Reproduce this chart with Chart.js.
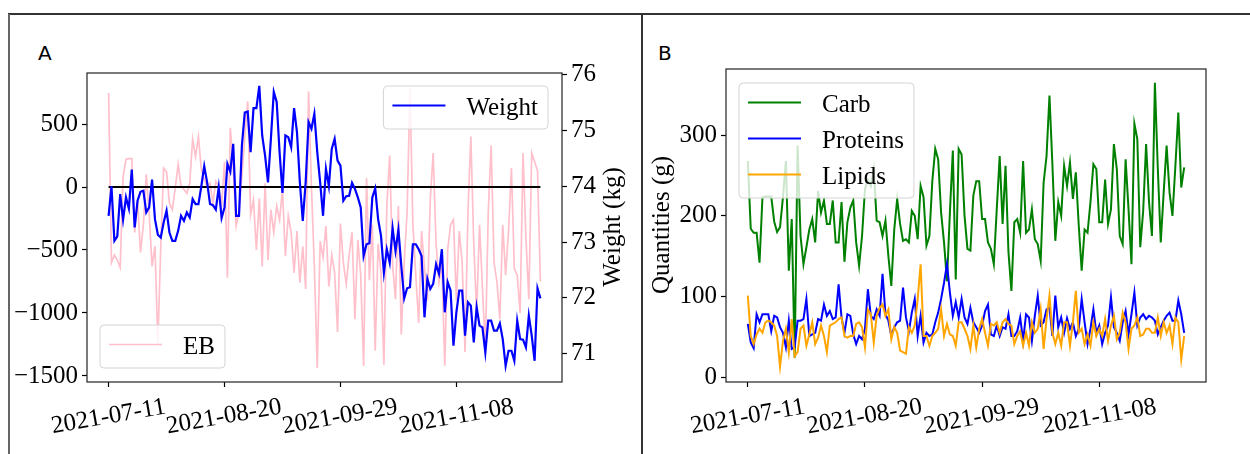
<!DOCTYPE html>
<html>
<head>
<meta charset="utf-8">
<script src="https://cdn.jsdelivr.net/npm/chart.js@4.4.0/dist/chart.umd.min.js"></script>
<style>
  body { margin: 0; width: 1250px; height: 454px; background: #fff; position: relative; overflow: hidden; font-family: "Liberation Serif", serif; }
  canvas { position: absolute; }
  .rule { position: absolute; }
  .panel { position: absolute; font: 20px "DejaVu Sans", sans-serif; line-height: 20px; }
  .ytitle { position: absolute; font-size: 25px; line-height: 25px; white-space: nowrap; transform: translate(-50%, -50%) rotate(-90deg); }
</style>
</head>
<body>
<div class="rule" style="left:8px; top:13px; width:1242px; height:2px; background:#333;"></div>
<div class="rule" style="left:8px; top:14px; width:1.5px; height:440px; background:#666;"></div>
<div class="rule" style="left:641px; top:14px; width:1.5px; height:440px; background:#333;"></div>
<div class="panel" style="left:38px; top:43px;">A</div>
<div class="panel" style="left:658px; top:43px;">B</div>

<canvas id="chartA" width="630" height="439" style="left:10px; top:15px;"></canvas>
<canvas id="chartB" width="607" height="439" style="left:643px; top:15px;"></canvas>

<div class="ytitle" style="left:611px; top:227px;">Weight (kg)</div>
<div class="ytitle" style="left:660px; top:225px;">Quantities (g)</div>

<script>
// days since 2021-07-11
const xTickDays = [0, 40, 80, 120];
const xTickLabels = ["2021-07-11", "2021-08-20", "2021-09-29", "2021-11-08"];
const ebTicks = [-1500, -1000, -500, 0, 500];
const weightTicks = [71, 72, 73, 74, 75, 76];
const gramTicks = [0, 100, 200, 300];

const weight = [
  73.47, 74.0, 73.02, 73.1, 73.86, 73.4, 73.8, 73.6, 74.3, 73.26,
  73.74, 73.9, 73.92, 73.53, 73.62, 74.12, 73.41, 73.13, 73.08, 73.35,
  73.56, 73.17, 73.02, 73.02, 73.2, 73.47, 73.38, 73.53, 73.44, 73.77,
  73.68, 73.68, 74.0, 74.36, 74.07, 73.68, 73.66, 73.58, 73.98, 73.43,
  73.62, 74.4, 74.26, 74.76, 73.47, 73.47, 74.73, 75.32, 75.34, 74.61,
  75.4, 75.4, 75.8, 74.91, 74.55, 74.07, 74.85, 75.69, 75.51, 74.61,
  73.88, 74.91, 74.88, 74.7, 75.4, 74.97, 74.07, 73.38, 74.07, 75.15,
  75.03, 75.3, 74.61, 74.07, 73.47, 74.31, 74.0, 74.67, 74.85, 74.46,
  74.37, 73.74, 73.82, 73.83, 74.06, 73.95, 73.8, 73.62, 72.75, 72.96,
  72.98, 73.8, 73.96, 73.41, 73.11, 72.45, 72.87, 72.63, 73.25, 72.84,
  73.22, 72.57, 71.99, 72.17, 72.19, 72.96, 72.96, 72.87, 72.75, 71.65,
  72.34, 72.16, 72.25, 72.6, 72.43, 72.87, 71.74, 72.28, 72.13, 71.14,
  71.74, 72.13, 72.13, 71.32, 71.92, 71.86, 71.2, 71.83, 71.5, 71.47,
  71.02, 71.59, 71.59, 71.41, 71.41, 71.54, 71.26, 70.78, 71.05, 71.05,
  70.87, 71.59, 71.26, 71.25, 71.11, 71.68, 71.32, 70.87, 72.17, 71.99
];

const eb = [
  746, -600, -540, -580, -640, 80, 220, 225, 225, -360,
  -100, -520, -300, 100, -210, -630, -470, -1240, -470, 150,
  120, -130, -180, -10, 180, 5, -20, -50, 30, 380,
  240, 400, 140, 60, 5, 30, -130, 45, 5, -140,
  200, -720, 470, 160, -310, -200, 90, 400, 680, -220,
  -100, -500, -90, -630, 30, -580, -180, -360, -150, -260,
  -20, -550, -230, -360, -680, -350, -760, -470, -810, 760,
  0, -630, -1437, -430, -560, -310, -790, -540, -680, -1150,
  -290, -600, -770, -540, -360, -1050, -420, -700, -1420, 70,
  -740, -300, -1300, -450, -680, -1410, -150, 250, -620, -890,
  -150, -1170, -600, -200, 790, -300, -700, -1080, -350, -640,
  -900, -100, 270, -450, -760, -600, -1420, -500, -300, -260,
  -900, -350, -600, -1310, -200, 400, -450, -1000, -300, -800,
  -1300, -200, 330, -600, -750, -1050, -300, -700, -350, 150,
  -650, -700, -1000, 270, -400, -890, 270, 200, 130, -750
];

const carb = [
  268, 184, 179, 179, 142, 223, 224, 224, 224, 193,
  180, 186, 223, 268, 132, 196, 24, 287, 175, 140,
  161, 183, 196, 167, 231, 204, 219, 190, 190, 219,
  167, 167, 217, 143, 192, 210, 219, 167, 138, 175,
  233, 245, 237, 258, 194, 192, 175, 194, 150, 113,
  183, 221, 190, 169, 171, 167, 206, 200, 171, 237,
  223, 163, 175, 243, 283, 270, 204, 167, 119, 204,
  281, 121, 283, 276, 200, 159, 157, 225, 243, 243,
  196, 196, 167, 159, 140, 208, 274, 190, 262, 155,
  107, 192, 196, 179, 268, 179, 183, 208, 171, 165,
  144, 241, 274, 349, 264, 169, 217, 200, 262, 237,
  266, 221, 254, 188, 132, 183, 179, 217, 264, 258,
  192, 192, 245, 190, 208, 289, 258, 175, 165, 270,
  208, 140, 314, 295, 161, 206, 289, 217, 175, 365,
  258, 167, 229, 287, 229, 200, 262, 328, 235, 260
];

const proteins = [
  66, 43, 36, 78, 68, 78, 78, 78, 57, 76,
  74, 62, 55, 37, 70, 35, 37, 70, 70, 72,
  97, 51, 53, 55, 72, 70, 90, 76, 82, 72,
  74, 115, 74, 55, 78, 76, 53, 41, 51, 47,
  60, 109, 76, 72, 84, 76, 128, 78, 70, 51,
  62, 68, 70, 111, 74, 57, 80, 97, 51, 76,
  43, 55, 51, 53, 68, 80, 97, 117, 140, 105,
  76, 93, 74, 97, 74, 66, 86, 68, 62, 55,
  64, 82, 90, 53, 51, 64, 51, 62, 60, 78,
  51, 51, 57, 74, 45, 78, 74, 45, 76, 101,
  64, 68, 84, 86, 51, 101, 62, 74, 55, 73,
  60, 68, 51, 60, 97, 68, 41, 60, 84, 55,
  64, 41, 55, 64, 99, 62, 55, 45, 68, 82,
  53, 78, 105, 64, 74, 78, 72, 76, 74, 70,
  53, 62, 70, 76, 80, 70, 70, 95, 78, 55
];

const lipids = [
  101, 51, 41, 53, 60, 55, 68, 70, 68, 64,
  51, 13, 45, 60, 31, 72, 26, 31, 60, 64,
  39, 53, 68, 41, 49, 64, 51, 31, 64, 66,
  68, 72, 74, 51, 49, 51, 51, 66, 68, 62,
  37, 84, 78, 43, 76, 86, 90, 76, 84, 47,
  62, 55, 33, 31, 29, 62, 55, 64, 97, 140,
  51, 51, 39, 51, 55, 60, 84, 51, 66, 53,
  51, 39, 68, 68, 60, 51, 35, 64, 37, 60,
  72, 55, 39, 66, 64, 68, 55, 68, 72, 66,
  64, 41, 51, 57, 39, 55, 39, 68, 55, 60,
  84, 35, 72, 101, 55, 41, 55, 39, 68, 68,
  39, 68, 107, 55, 60, 41, 53, 39, 68, 51,
  60, 51, 72, 45, 64, 76, 47, 55, 80, 68,
  35, 60, 64, 74, 51, 53, 60, 60, 55, 55,
  74, 51, 68, 55, 64, 41, 74, 68, 22, 51
];

const days = weight.map((_, i) => i);

Chart.defaults.font.family = '"Liberation Serif", "Times New Roman", serif';
Chart.defaults.font.size = 25;
Chart.defaults.color = "#000";
Chart.defaults.animation = false;
Chart.defaults.events = [];
Chart.defaults.plugins.legend.display = false;
Chart.defaults.plugins.tooltip.enabled = false;
Chart.defaults.elements.point.radius = 0;
Chart.defaults.elements.line.tension = 0;

function minus(v) {
  return String(v).replace("-", "\u2212");
}

function xScale() {
  return {
    type: "linear",
    min: -7.45,
    max: 156.45,
    afterBuildTicks: (s) => { s.ticks = xTickDays.map((v) => ({ value: v })); },
    afterFit: (s) => { s.height = 72; s.paddingLeft = 0; s.paddingRight = 0; },
    grid: { display: true, drawOnChartArea: false, tickLength: 5, tickColor: "#000", tickWidth: 1.2 },
    border: { display: false },
    ticks: {
      autoSkip: false,
      minRotation: 10,
      maxRotation: 10,
      labelOffset: 57,
      padding: 5,
      callback: (v) => xTickLabels[xTickDays.indexOf(v)],
    },
  };
}

function yScale(position, min, max, tickValues, width) {
  return {
    type: "linear",
    position: position,
    min: min,
    max: max,
    afterBuildTicks: (s) => { s.ticks = tickValues.map((v) => ({ value: v })); },
    afterFit: (s) => { s.width = width; },
    grid: { display: true, drawOnChartArea: false, tickLength: 5, tickColor: "#000", tickWidth: 1.2 },
    border: { display: false },
    ticks: { padding: 4, callback: (v) => minus(v) },
  };
}

function drawLegend(chart, spec) {
  const ctx = chart.ctx;
  const a = chart.chartArea;
  const sets = spec.items.map((i) => chart.data.datasets[i]);
  ctx.font = '25px "Liberation Serif"';
  const textW = Math.max(...sets.map((d) => ctx.measureText(d.label).width));
  const w = 93 + textW;
  const h = 43 + 36 * (sets.length - 1);
  const x = spec.left !== undefined ? a.left + spec.left : a.right - spec.right - w;
  const y = spec.top !== undefined ? a.top + spec.top : a.bottom - spec.bottom - h;

  ctx.beginPath();
  ctx.roundRect(x, y, w, h, 4);
  ctx.fillStyle = "rgba(255,255,255,0.8)";
  ctx.fill();
  ctx.strokeStyle = "#d4d4d4";
  ctx.lineWidth = 1;
  ctx.stroke();

  sets.forEach((d, k) => {
    const cy = y + 19.5 + 36 * k;
    ctx.beginPath();
    ctx.moveTo(x + 9, cy);
    ctx.lineTo(x + 62, cy);
    ctx.strokeStyle = d.borderColor;
    ctx.lineWidth = d.borderWidth;
    ctx.stroke();
    ctx.fillStyle = "#000";
    ctx.textAlign = "left";
    ctx.textBaseline = "alphabetic";
    ctx.fillText(d.label, x + 83, cy + 9);
  });
}

function framePlugin(legends) {
  return {
    id: "frame",
    afterDatasetsDraw(chart) {
      const ctx = chart.ctx;
      const a = chart.chartArea;
      ctx.save();
      ctx.strokeStyle = "#222";
      ctx.lineWidth = 1.2;
      ctx.strokeRect(a.left, a.top, a.right - a.left, a.bottom - a.top);
      legends.forEach((spec) => drawLegend(chart, spec));
      ctx.restore();
    },
  };
}

// Panel A: energy balance and weight
new Chart(document.getElementById("chartA"), {
  type: "line",
  data: {
    labels: days,
    datasets: [
      { label: "EB", data: eb, yAxisID: "yEB", borderColor: "#ffc0cb", borderWidth: 1.7, order: 2 },
      {
        label: "zero",
        data: [{ x: days[0], y: 0 }, { x: days[days.length - 1], y: 0 }],
        yAxisID: "yEB",
        borderColor: "#000",
        borderWidth: 2,
        order: 1,
      },
      { label: "Weight", data: weight, yAxisID: "yW", borderColor: "#0000ff", borderWidth: 2.2, order: 0 },
    ],
  },
  options: {
    responsive: false,
    devicePixelRatio: 1,
    layout: { padding: { top: 58, left: 0, right: 0, bottom: 0 } },
    scales: {
      x: xScale(),
      yEB: yScale("left", -1548, 905, ebTicks, 77),
      yW: yScale("right", 70.49, 76.03, weightTicks, 78),
    },
  },
  plugins: [framePlugin([
    { items: [2], right: 14, top: 13 },
    { items: [0], left: 13, bottom: 14 },
  ])],
});

// Panel B: macronutrients
new Chart(document.getElementById("chartB"), {
  type: "line",
  data: {
    labels: days,
    datasets: [
      { label: "Carb", data: carb, borderColor: "#008000", borderWidth: 2, order: 2 },
      { label: "Proteins", data: proteins, borderColor: "#0000ff", borderWidth: 2, order: 1 },
      { label: "Lipids", data: lipids, borderColor: "#ffa500", borderWidth: 2, order: 0 },
    ],
  },
  options: {
    responsive: false,
    devicePixelRatio: 1,
    layout: { padding: { top: 54, left: 0, right: 44, bottom: 0 } },
    scales: {
      x: xScale(),
      y: yScale("left", -6, 382, gramTicks, 83),
    },
  },
  plugins: [framePlugin([{ items: [0, 1, 2], left: 13, top: 14 }])],
});
</script>
</body>
</html>
